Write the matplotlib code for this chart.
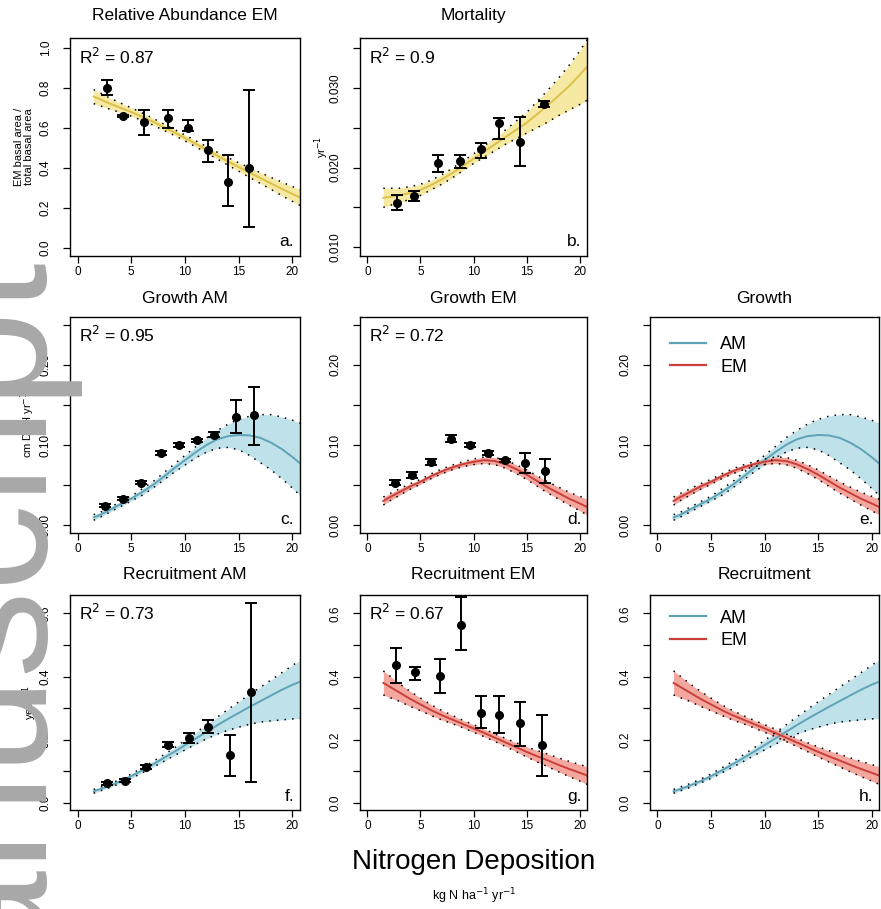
import numpy as np
import matplotlib
matplotlib.use("Agg")
import matplotlib.pyplot as plt
from matplotlib.lines import Line2D

plt.rcParams['font.family'] = ['Liberation Sans', 'DejaVu Sans']

# ---------------- data ----------------
x_grid = [1.5, 2, 3, 4, 5, 6, 7, 8, 9, 10, 11, 12, 13, 14, 15, 16, 17, 18, 19, 20, 20.8]

# Relative abundance EM (fit and confidence half-width)
relab_fit = [0.757, 0.746, 0.722, 0.701, 0.680, 0.657, 0.632, 0.605, 0.578, 0.550, 0.521,
             0.491, 0.462, 0.433, 0.405, 0.377, 0.350, 0.323, 0.296, 0.270, 0.250]
relab_half = [0.035, 0.033, 0.028, 0.024, 0.021, 0.019, 0.017, 0.016, 0.015, 0.015, 0.015,
              0.016, 0.017, 0.019, 0.021, 0.024, 0.027, 0.030, 0.034, 0.037, 0.040]
relab_x = [2.7, 4.2, 6.2, 8.4, 10.3, 12.1, 14.0, 16.0]
relab_y = [0.80, 0.66, 0.63, 0.65, 0.60, 0.49, 0.33, 0.40]
relab_elo = [0.765, 0.655, 0.565, 0.60, 0.585, 0.43, 0.21, 0.105]
relab_ehi = [0.84, 0.665, 0.69, 0.69, 0.64, 0.54, 0.465, 0.79]

# Mortality
mort_fit = [0.0162, 0.0163, 0.0165, 0.0168, 0.0172, 0.0178, 0.0185, 0.0193, 0.0202, 0.0211, 0.0220,
            0.0229, 0.0238, 0.0247, 0.0256, 0.0267, 0.0278, 0.0290, 0.0302, 0.0316, 0.0328]
mort_half_hi = [0.0012, 0.0011, 0.0009, 0.0008, 0.0007, 0.0006, 0.0006, 0.0006, 0.0006, 0.0006, 0.0007,
                0.0008, 0.0009, 0.0011, 0.0013, 0.0016, 0.0019, 0.0022, 0.0026, 0.0030, 0.0034]
mort_half_lo = [0.0012, 0.0011, 0.0009, 0.0008, 0.0007, 0.0006, 0.0006, 0.0006, 0.0006, 0.0006, 0.0007,
                0.0008, 0.0009, 0.0011, 0.0013, 0.0017, 0.0021, 0.0025, 0.0030, 0.0037, 0.0043]
mort_x = [2.76, 4.4, 6.7, 8.7, 10.66, 12.4, 14.35, 16.6]
mort_y = [0.0156, 0.0164, 0.0206, 0.0208, 0.0223, 0.0256, 0.0232, 0.0280]
mort_elo = [0.0147, 0.0158, 0.0195, 0.0200, 0.0212, 0.0236, 0.0202, 0.0276]
mort_ehi = [0.0165, 0.0170, 0.0216, 0.0216, 0.0231, 0.0262, 0.0264, 0.0284]

# Growth fits
gam_fit = [0.0095, 0.012, 0.019, 0.026, 0.033, 0.041, 0.050, 0.060, 0.071, 0.081, 0.091,
           0.100, 0.107, 0.111, 0.1125, 0.112, 0.109, 0.103, 0.095, 0.085, 0.076]
gam_lo = [0.006, 0.009, 0.016, 0.023, 0.030, 0.037, 0.046, 0.056, 0.066, 0.075, 0.084,
          0.091, 0.096, 0.097, 0.094, 0.087, 0.078, 0.069, 0.058, 0.046, 0.036]
gam_hi = [0.013, 0.015, 0.022, 0.029, 0.036, 0.045, 0.054, 0.065, 0.076, 0.087, 0.098,
          0.109, 0.118, 0.126, 0.132, 0.136, 0.138, 0.138, 0.135, 0.131, 0.127]
gem_fit = [0.030, 0.034, 0.041, 0.048, 0.054, 0.061, 0.067, 0.072, 0.076, 0.079, 0.081,
           0.080, 0.076, 0.070, 0.063, 0.055, 0.047, 0.040, 0.033, 0.027, 0.022]
gem_half = [0.005, 0.0045, 0.004, 0.0035, 0.003, 0.003, 0.003, 0.003, 0.003, 0.0035, 0.004,
            0.0045, 0.005, 0.0055, 0.006, 0.0065, 0.007, 0.0075, 0.008, 0.009, 0.010]

# Growth AM points
gam_x = [2.56, 4.2, 5.9, 7.75, 9.45, 11.1, 12.7, 14.7, 16.4]
gam_y = [0.024, 0.033, 0.053, 0.090, 0.100, 0.106, 0.113, 0.135, 0.1375]
gam_elo = [0.022, 0.031, 0.051, 0.088, 0.098, 0.104, 0.110, 0.115, 0.100]
gam_ehi = [0.026, 0.035, 0.055, 0.092, 0.102, 0.108, 0.116, 0.156, 0.173]

# Growth EM points
gem_x = [2.6, 4.2, 6.0, 7.9, 9.7, 11.4, 13.0, 14.9, 16.7]
gem_y = [0.053, 0.0625, 0.079, 0.108, 0.100, 0.0896, 0.081, 0.077, 0.067]
gem_elo = [0.050, 0.059, 0.075, 0.104, 0.097, 0.088, 0.079, 0.065, 0.052]
gem_ehi = [0.056, 0.066, 0.083, 0.112, 0.103, 0.092, 0.083, 0.090, 0.083]

# Recruitment fits
ram_fit = [0.037, 0.043, 0.055, 0.069, 0.085, 0.103, 0.122, 0.142, 0.162, 0.183, 0.204,
           0.225, 0.246, 0.266, 0.285, 0.304, 0.322, 0.340, 0.358, 0.374, 0.385]
ram_lo = [0.031, 0.037, 0.049, 0.063, 0.078, 0.095, 0.113, 0.131, 0.150, 0.168, 0.186,
          0.203, 0.218, 0.230, 0.240, 0.249, 0.256, 0.260, 0.263, 0.266, 0.268]
ram_hi = [0.043, 0.049, 0.061, 0.075, 0.092, 0.111, 0.131, 0.152, 0.174, 0.198, 0.222,
          0.247, 0.272, 0.296, 0.320, 0.343, 0.366, 0.389, 0.412, 0.435, 0.455]
rem_fit = [0.380, 0.370, 0.350, 0.330, 0.312, 0.294, 0.278, 0.264, 0.250, 0.236, 0.222,
           0.207, 0.192, 0.177, 0.162, 0.148, 0.135, 0.121, 0.108, 0.096, 0.086]
rem_half = [0.038, 0.035, 0.028, 0.024, 0.020, 0.017, 0.015, 0.013, 0.012, 0.012, 0.012,
            0.012, 0.013, 0.014, 0.016, 0.018, 0.020, 0.022, 0.024, 0.026, 0.028]

# Recruitment AM points
ram_x = [2.7, 4.4, 6.4, 8.4, 10.4, 12.1, 14.2, 16.1]
ram_y = [0.063, 0.071, 0.114, 0.184, 0.205, 0.242, 0.153, 0.352]
ram_elo = [0.058, 0.066, 0.108, 0.176, 0.190, 0.221, 0.086, 0.068]
ram_ehi = [0.068, 0.076, 0.120, 0.192, 0.221, 0.263, 0.216, 0.632]

# Recruitment EM points
rem_x = [2.7, 4.5, 6.8, 8.8, 10.7, 12.4, 14.4, 16.5]
rem_y = [0.437, 0.416, 0.402, 0.563, 0.286, 0.279, 0.253, 0.184]
rem_elo = [0.379, 0.389, 0.347, 0.484, 0.237, 0.221, 0.179, 0.084]
rem_ehi = [0.489, 0.431, 0.455, 0.653, 0.337, 0.337, 0.321, 0.279]

x_ticks = [0, 5, 10, 15, 20]
relab_ticks = [0.0, 0.2, 0.4, 0.6, 0.8, 1.0]
relab_ticklabels = ["0.0", "0.2", "0.4", "0.6", "0.8", "1.0"]
mort_ticks = [0.010, 0.015, 0.020, 0.025, 0.030, 0.035]
mort_ticklabels = ["0.010", "", "0.020", "", "0.030", ""]
growth_ticks = [0.00, 0.05, 0.10, 0.15, 0.20, 0.25]
growth_ticklabels = ["0.00", "", "0.10", "", "0.20", ""]
rec_ticks = [0.0, 0.1, 0.2, 0.3, 0.4, 0.5, 0.6]
rec_ticklabels = ["0.0", "", "0.2", "", "0.4", "", "0.6"]

# ---------------- styling ----------------
YEL_FILL, YEL_LINE = "#f5e9a3", "#dcc04a"
AM_FILL, AM_LINE = "#bfe1ea", "#5ea3b6"
EM_FILL, EM_LINE = "#f4a79e", "#c9403a"

W, H = 881, 909
fig = plt.figure(figsize=(W / 100, H / 100), dpi=100)

cols = [(70, 300), (360, 587), (650, 879)]
rows = [(38, 256), (317, 533), (595, 810)]


def make_ax(ci, ri):
    l, r = cols[ci]
    t, b = rows[ri]
    ax = fig.add_axes([l / W, 1 - b / H, (r - l) / W, (b - t) / H])
    for s in ax.spines.values():
        s.set_linewidth(1.0)
        s.set_color("black")
    ax.set_xlim(-0.7, 20.7)
    ax.set_xticks(x_ticks)
    ax.set_xticklabels([str(v) for v in x_ticks])
    ax.tick_params(axis="x", direction="out", length=5, width=0.9, labelsize=8.5, pad=2.5)
    ax.tick_params(axis="y", direction="out", length=5, width=0.9, labelsize=8.5, pad=8,
                   labelrotation=90)
    return ax


def set_y(ax, ticks, labels, ylim):
    ax.set_ylim(*ylim)
    ax.set_yticks(ticks)
    ax.set_yticklabels(labels)
    for lab in ax.get_yticklabels():
        lab.set_va("center")


def draw_fit(ax, fit, lo, hi, fill, line):
    ax.fill_between(x_grid, lo, hi, color=fill, lw=0, zorder=1)
    ax.plot(x_grid, fit, color=line, lw=1.4, zorder=2)
    ax.plot(x_grid, lo, color="black", lw=1.1, ls=(0, (1, 4)), zorder=3)
    ax.plot(x_grid, hi, color="black", lw=1.1, ls=(0, (1, 4)), zorder=3)


def draw_pts(ax, x, y, lo, hi):
    y = np.asarray(y)
    err = [y - np.asarray(lo), np.asarray(hi) - y]
    ax.errorbar(x, y, yerr=err, fmt="o", color="black", ms=5.5, capsize=4.5,
                elinewidth=1.4, capthick=1.4, zorder=5)


def decorate(ax, title, letter, r2=None, ty=1.095):
    ax.text(0.5, ty, title, transform=ax.transAxes, ha="center", va="center", fontsize=12.5)
    ax.text(0.975, 0.03, letter, transform=ax.transAxes, ha="right", va="bottom", fontsize=12.5)
    if r2 is not None:
        ax.text(0.04, 0.915, r2, transform=ax.transAxes, ha="left", va="center", fontsize=12.5)


def legend(ax, y0):
    handles = [Line2D([], [], color=AM_LINE, lw=1.6), Line2D([], [], color=EM_LINE, lw=1.6)]
    ax.legend(handles, ["AM", "EM"], loc="upper left", frameon=False, fontsize=13,
              handlelength=2.0, handletextpad=0.8, borderaxespad=0.3,
              bbox_to_anchor=(0.03, y0), labelspacing=0.3)


def band(fit, half_lo, half_hi):
    fit = np.asarray(fit)
    return fit - np.asarray(half_lo), fit + np.asarray(half_hi)


relab_lo, relab_hi = band(relab_fit, relab_half, relab_half)
mort_lo, mort_hi = band(mort_fit, mort_half_lo, mort_half_hi)
gem_lo, gem_hi = band(gem_fit, gem_half, gem_half)
rem_lo, rem_hi = band(rem_fit, rem_half, rem_half)

# a. Relative abundance EM
ax = make_ax(0, 0)
set_y(ax, relab_ticks, relab_ticklabels, (-0.04, 1.05))
draw_fit(ax, relab_fit, relab_lo, relab_hi, YEL_FILL, YEL_LINE)
draw_pts(ax, relab_x, relab_y, relab_elo, relab_ehi)
decorate(ax, "Relative Abundance EM", "a.", "R$^2$ = 0.87", ty=1.105)
ax.text(-0.2, 0.5, "EM basal area /\ntotal basal area", transform=ax.transAxes, rotation=90,
        ha="center", va="center", fontsize=8, linespacing=1.0)

# b. Mortality
ax = make_ax(1, 0)
set_y(ax, mort_ticks, mort_ticklabels, (0.0089, 0.03625))
draw_fit(ax, mort_fit, mort_lo, mort_hi, YEL_FILL, YEL_LINE)
draw_pts(ax, mort_x, mort_y, mort_elo, mort_ehi)
decorate(ax, "Mortality", "b.", "R$^2$ = 0.9", ty=1.105)
ax.text(-0.167, 0.5, "yr$^{-1}$", transform=ax.transAxes, rotation=90,
        ha="center", va="center", fontsize=8)

# c. Growth AM
ax = make_ax(0, 1)
set_y(ax, growth_ticks, growth_ticklabels, (-0.01, 0.26))
draw_fit(ax, gam_fit, gam_lo, gam_hi, AM_FILL, AM_LINE)
draw_pts(ax, gam_x, gam_y, gam_elo, gam_ehi)
decorate(ax, "Growth AM", "c.", "R$^2$ = 0.95", ty=1.085)
ax.text(-0.183, 0.5, "cm DBH yr$^{-1}$", transform=ax.transAxes, rotation=90,
        ha="center", va="center", fontsize=8)

# d. Growth EM
ax = make_ax(1, 1)
set_y(ax, growth_ticks, growth_ticklabels, (-0.01, 0.26))
draw_fit(ax, gem_fit, gem_lo, gem_hi, EM_FILL, EM_LINE)
draw_pts(ax, gem_x, gem_y, gem_elo, gem_ehi)
decorate(ax, "Growth EM", "d.", "R$^2$ = 0.72", ty=1.085)

# e. Growth
ax = make_ax(2, 1)
set_y(ax, growth_ticks, growth_ticklabels, (-0.01, 0.26))
draw_fit(ax, gam_fit, gam_lo, gam_hi, AM_FILL, AM_LINE)
draw_fit(ax, gem_fit, gem_lo, gem_hi, EM_FILL, EM_LINE)
decorate(ax, "Growth", "e.", ty=1.085)
legend(ax, 0.97)

# f. Recruitment AM
ax = make_ax(0, 2)
set_y(ax, rec_ticks, rec_ticklabels, (-0.022, 0.658))
draw_fit(ax, ram_fit, ram_lo, ram_hi, AM_FILL, AM_LINE)
draw_pts(ax, ram_x, ram_y, ram_elo, ram_ehi)
decorate(ax, "Recruitment AM", "f.", "R$^2$ = 0.73", ty=1.094)
ax.text(-0.174, 0.5, "year$^{-1}$", transform=ax.transAxes, rotation=90,
        ha="center", va="center", fontsize=8)

# g. Recruitment EM
ax = make_ax(1, 2)
set_y(ax, rec_ticks, rec_ticklabels, (-0.022, 0.658))
draw_fit(ax, rem_fit, rem_lo, rem_hi, EM_FILL, EM_LINE)
draw_pts(ax, rem_x, rem_y, rem_elo, rem_ehi)
decorate(ax, "Recruitment EM", "g.", "R$^2$ = 0.67", ty=1.094)

# h. Recruitment
ax = make_ax(2, 2)
set_y(ax, rec_ticks, rec_ticklabels, (-0.022, 0.658))
draw_fit(ax, ram_fit, ram_lo, ram_hi, AM_FILL, AM_LINE)
draw_fit(ax, rem_fit, rem_lo, rem_hi, EM_FILL, EM_LINE)
decorate(ax, "Recruitment", "h.", ty=1.094)
legend(ax, 0.99)

# shared x label
fig.text(474 / W, 1 - 862 / H, "Nitrogen Deposition", ha="center", va="center", fontsize=20)
fig.text(474 / W, 1 - 896 / H, "kg N ha$^{-1}$ yr$^{-1}$", ha="center", va="center", fontsize=9)

# "Author Manuscript" watermark along the left edge
fig.text(47 / W, 1 - 262 / H, "Author Manuscript", rotation=90, rotation_mode="anchor",
         ha="right", va="baseline", fontsize=125, color="#a8a8a8", zorder=100)

fig.savefig("out.png", dpi=100)
